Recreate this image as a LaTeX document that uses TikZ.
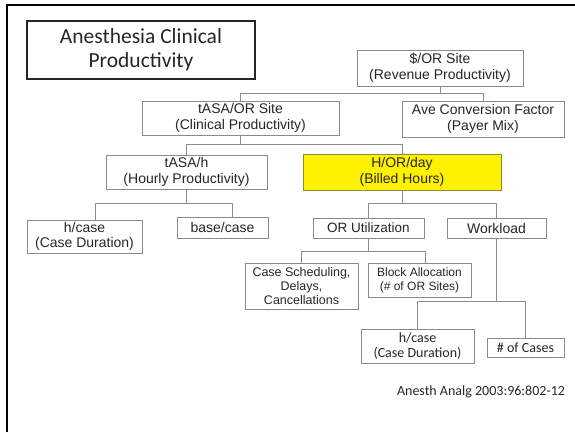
\documentclass[tikz,border=0pt]{standalone}
\usepackage{fontspec}
\setmainfont{Liberation Sans}
\newfontfamily\calibri{Carlito}
\usetikzlibrary{calc,positioning}
\definecolor{linegray}{HTML}{8C8C8C}
\definecolor{boxgray}{HTML}{8A8A8A}

\begin{document}
\begin{tikzpicture}[x=1pt,y=-1pt,
    box/.style={draw=boxgray,line width=0.9pt,fill=white,inner sep=0pt,align=center,
        text=black!85,font=\fontsize{14}{15.5}\selectfont},
    cbox/.style={box,font=\calibri\fontsize{14}{15.5}\selectfont},
    conn/.style={draw=linegray,line width=0.9pt}]
        \useasboundingbox (0,0) rectangle (575,432);
        % frame
        \draw[line width=2.5pt] (7,432) -- (7,5) -- (575,5);

        \node[draw=black!85,line width=2pt,inner sep=0pt,align=center,
            minimum width=228,minimum height=58,text=black!85,
            font=\calibri\fontsize{21.5}{24}\selectfont] (title) at (141,49.5)
            {Anesthesia Clinical\\Productivity};

        \node[box,minimum width=166,minimum height=36] (sor) at (440,68)
            {\$/OR Site\\(Revenue Productivity)};
        \node[box,minimum width=197,minimum height=34] (tasaor) at (240.5,118)
            {tASA/OR Site\\(Clinical Productivity)};
        \node[box,minimum width=162,minimum height=36] (avecf) at (483,119)
            {Ave Conversion Factor\\(Payer Mix)};
        \node[box,minimum width=161,minimum height=34] (tasah) at (186.5,172)
            {tASA/h\\(Hourly Productivity)};
        \node[box,fill=yellow,draw=olive!60!gray,minimum width=198,minimum height=36] (hord) at (402,172)
            {H/OR/day\\(Billed Hours)};
        \node[box,minimum width=115,minimum height=33] (hcase) at (84.5,236.5)
            {h/case\\(Case Duration)};
        \node[box,minimum width=91,minimum height=21] (basecase) at (222.5,227.5)
            {base/case};
        \node[box,minimum width=111,minimum height=20,font=\fontsize{13.5}{15}\selectfont] (orutil) at (368.5,228)
            {OR Utilization};
        \node[box,minimum width=99,minimum height=20] (workload) at (496.5,228)
            {Workload};
        \node[box,minimum width=113,minimum height=46,font=\fontsize{12.5}{14}\selectfont] (sched) at (301.5,286)
            {Case Scheduling,\\Delays,\\Cancellations};
        \node[box,minimum width=103,minimum height=34,font=\fontsize{12}{14}\selectfont] (block) at (419.5,280)
            {Block Allocation\\(\# of OR Sites)};
        \node[cbox,minimum width=113,minimum height=34] (hcaseb) at (417.5,346)
            {h/case\\(Case Duration)};
        \node[cbox,minimum width=77,minimum height=19] (ncases) at (525.5,347.5)
            {\# of Cases};

        \node[font=\calibri\fontsize{14}{16}\selectfont,text=black!85] (cite) at (481,392)
            {Anesth Analg 2003:96:802-12};

        % connectors
        \draw[conn] (sor.south) -- ++(0,7) coordinate (b1);
        \draw[conn] (b1) -| (tasaor.north);
        \draw[conn] (b1) -| (avecf.north);

        \draw[conn] (tasaor.south) -- ++(0,9) coordinate (b2);
        \draw[conn] (b2) -| (tasah.north);
        \draw[conn] (b2) -| (hord.north);

        \draw[conn] (tasah.south) -- ++(0,14) coordinate (b3);
        \draw[conn] (b3) -| ([xshift=10.5]hcase.north);
        \draw[conn] (b3) -| ([xshift=9.5]basecase.north);

        \draw[conn] (hord.south) -- ++(0,13) coordinate (b4);
        \draw[conn] (b4) -| (orutil.north);
        \draw[conn] (b4) -| (workload.north);

        \draw[conn] (orutil.south) -- ++(0,13) coordinate (b5);
        \draw[conn] (b5) -| (sched.north);
        \draw[conn] (b5) -| ([xshift=5.5]block.north);

        \draw[conn] (workload.south) -- ++(0,63) coordinate (b6);
        \draw[conn] (b6) -| (hcaseb.north);
        \draw[conn] (b6) -| (ncases.north);
\end{tikzpicture}
\end{document}
